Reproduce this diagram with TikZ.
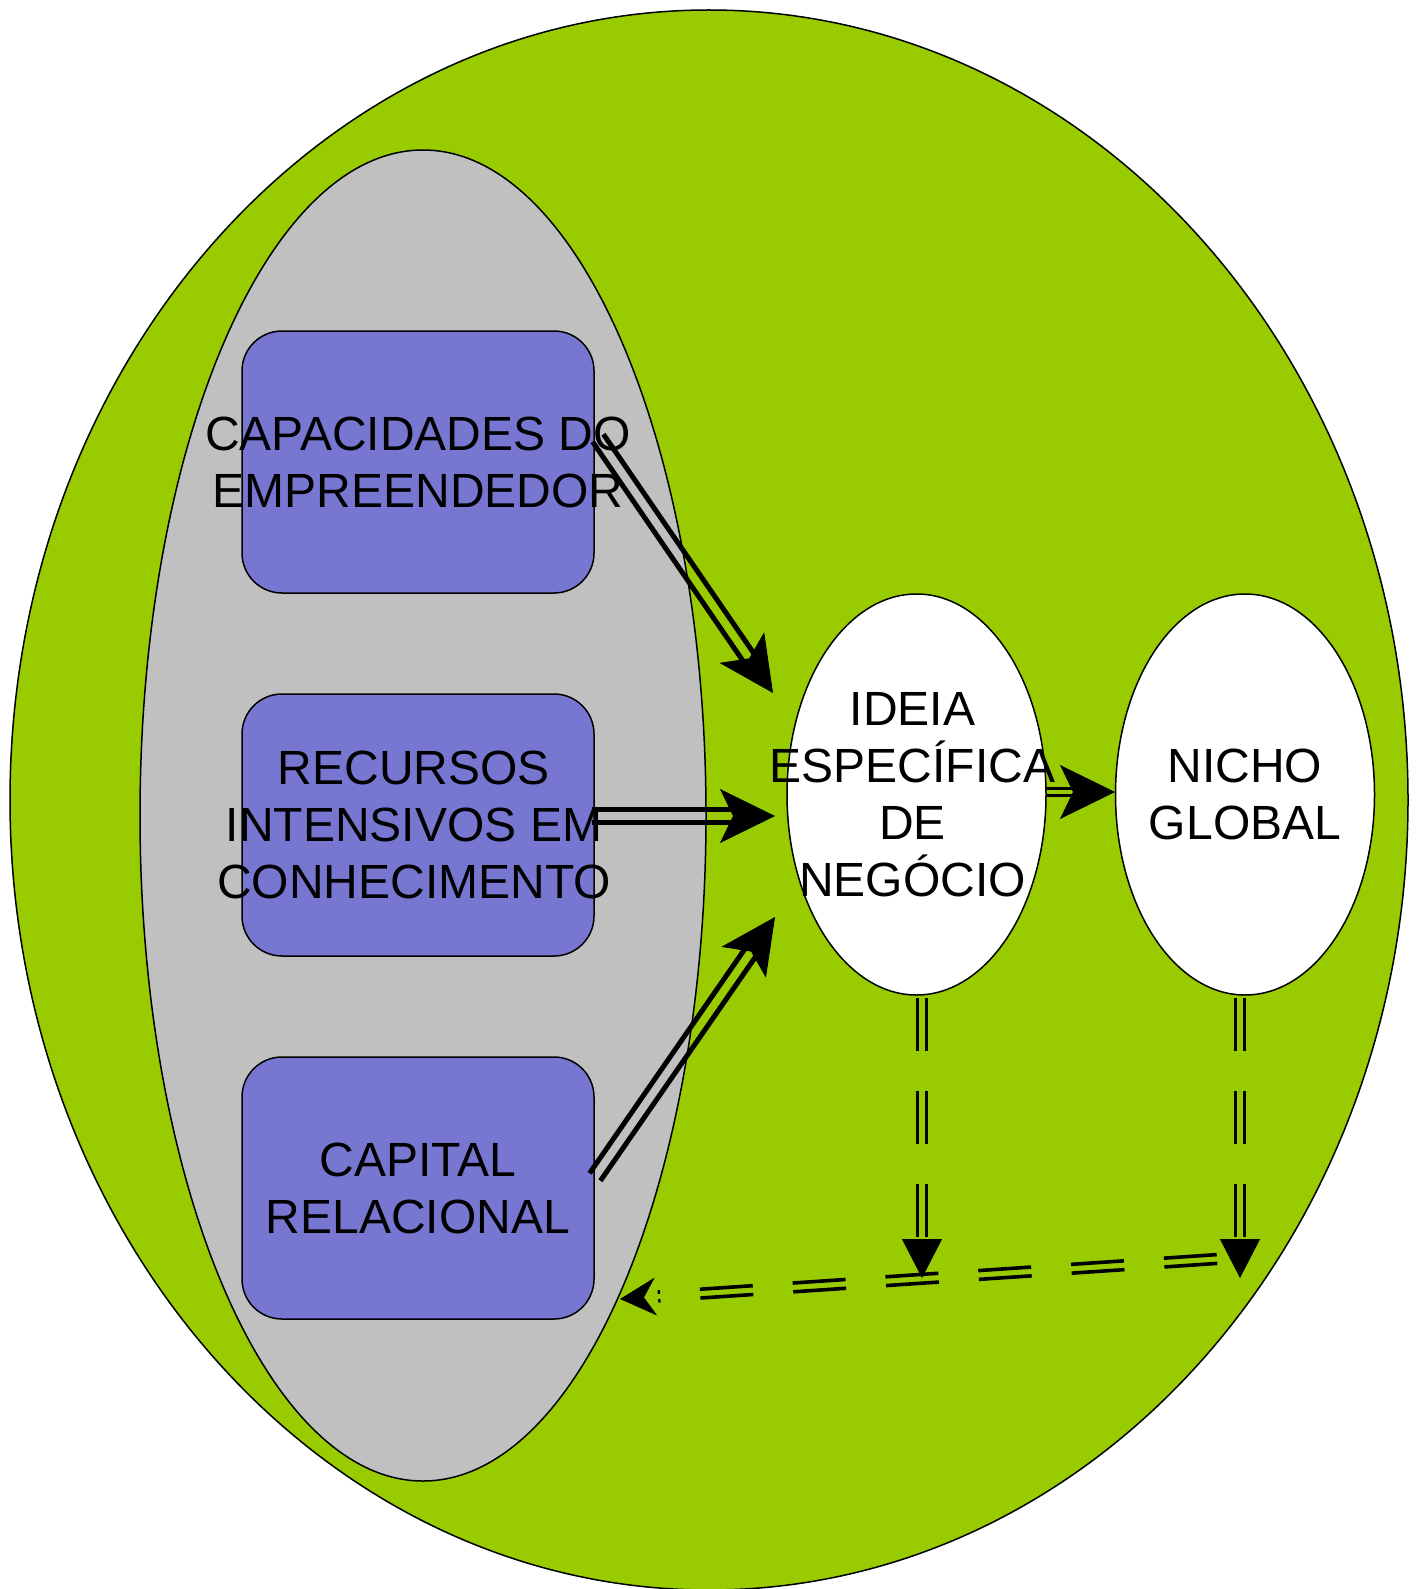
\documentclass[tikz,border=0pt]{standalone}
\usepackage{fontspec}
\setmainfont{Liberation Sans}
\usetikzlibrary{shapes.geometric,arrows.meta,calc,decorations.markings}
\definecolor{green1}{HTML}{99CC00}
\definecolor{gray1}{HTML}{C0C0C0}
\definecolor{blue1}{HTML}{7777D1}

\tikzset{
  oval/.style={ellipse, draw, line width=0.75pt, inner sep=0pt},
  box/.style={rectangle, rounded corners=20pt, draw, line width=0.75pt, fill=blue1,
    minimum width=176pt, minimum height=131pt},
  txt/.style={align=center, font=\fontsize{24}{28.5}\selectfont},
  dline/.style={line width=2.5pt, shorten >=19pt},
  dline2/.style={line width=1.7pt, shorten >=19pt},
  dashline/.style={line width=1.8pt, dash pattern=on 26.5pt off 20pt, shorten >=19pt},
  bighead/.style={decoration={markings, mark=at position 1 with
    {\arrow{Stealth[length=27.5pt,width=27pt,inset=6.5pt]}}}, decorate},
  downhead/.style={decoration={markings, mark=at position 1 with
    {\arrow{Triangle[length=19.5pt,width=20pt]}}}, decorate},
  backhead/.style={decoration={markings, mark=at position 1 with
    {\arrow{Stealth[length=18pt,width=19pt,inset=6pt]}}}, decorate}
}

% two parallel lines: style, offset, from, to
\newcommand{\twinline}[4]{%
  \draw[#1] ($(#3)!#2!90:(#4)$) -- ($(#4)!#2!-90:(#3)$);
  \draw[#1] ($(#3)!#2!-90:(#4)$) -- ($(#4)!#2!90:(#3)$);}

\begin{document}
\begin{tikzpicture}[x=0.5pt, y=-0.5pt]
\useasboundingbox (0,0) rectangle (1418,1589);

% background ellipses
\node[oval, fill=green1, minimum width=699pt, minimum height=790pt] (world) at (709,800) {};
\node[oval, fill=gray1, minimum width=283pt, minimum height=665.5pt] (base) at (423,815.5) {};

% resources
\node[box] (cap) at (418,462) {};
\node[box] (rec) at (418,825) {};
\node[box] (rel) at (418,1188) {};
\node[txt] (captxt) at (cap) {CAPACIDADES DO\\EMPREENDEDOR};
\node[txt] (rectxt) at ([xshift=-2pt]rec) {RECURSOS\\INTENSIVOS EM\\CONHECIMENTO};
\node[txt] (reltxt) at (rel) {CAPITAL\\RELACIONAL};

% idea and niche
\node[oval, fill=white, minimum width=129.5pt, minimum height=200.5pt] (idea) at (916.5,794.5) {};
\node[oval, fill=white, minimum width=129.5pt, minimum height=200.5pt] (niche) at (1245,794.5) {};
\node[txt] (ideatxt) at ([xshift=-2pt]idea) {IDEIA\\ESPECÍFICA\\DE\\NEGÓCIO};
\node[txt] (nichetxt) at (niche) {NICHO\\GLOBAL};

% connector ends
\coordinate (c1s) at (598,438);   \coordinate (c1t) at (773,693);
\coordinate (c2s) at (592,816);   \coordinate (c2t) at (775,816);
\coordinate (c3s) at (595,1177);  \coordinate (c3t) at (775,917);
\coordinate (c4s) at (1046,792);  \coordinate (c4t) at (1115,792);
\coordinate (c5s) at (922,998);   \coordinate (c5t) at (922,1278);
\coordinate (c6s) at (1240,998);  \coordinate (c6t) at (1240,1278);
\coordinate (c7s) at (1217,1259); \coordinate (c7t) at (620,1299);

% arrows
\twinline{dline}{3.3pt}{c1s}{c1t}
\path[bighead] (c1s) -- (c1t);
\twinline{dline}{3.3pt}{c2s}{c2t}
\path[bighead] (c2s) -- (c2t);
\twinline{dline}{3.3pt}{c3s}{c3t}
\path[bighead] (c3s) -- (c3t);
\twinline{dline2}{1.7pt}{c4s}{c4t}
\path[bighead] (c4s) -- (c4t);

\twinline{dashline}{2.2pt}{c5s}{c5t}
\path[downhead] (c5s) -- (c5t);
\twinline{dashline}{2.2pt}{c6s}{c6t}
\path[downhead] (c6s) -- (c6t);
\twinline{dashline}{2.2pt}{c7s}{c7t}
\path[backhead] (c7s) -- (c7t);
\end{tikzpicture}
\end{document}
